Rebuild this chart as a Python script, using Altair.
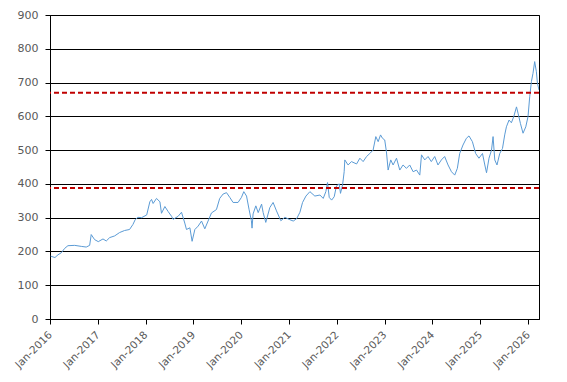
import altair as alt
import pandas as pd

dates = [
    "2016-01-06", "2016-02-08", "2016-03-02", "2016-03-27", "2016-04-22", "2016-05-17",
    "2016-07-08", "2016-08-27", "2016-10-04", "2016-10-30", "2016-11-11", "2016-12-07",
    "2017-01-04", "2017-02-09", "2017-03-06", "2017-04-01", "2017-05-09", "2017-06-16",
    "2017-07-24", "2017-08-31", "2017-09-26", "2017-10-13", "2017-11-03", "2017-12-01",
    "2018-01-09", "2018-02-02", "2018-02-15", "2018-02-27", "2018-03-25", "2018-04-20",
    "2018-05-02", "2018-05-28", "2018-06-22", "2018-07-18", "2018-07-30", "2018-09-06",
    "2018-10-02", "2018-10-27", "2018-11-09", "2018-12-05", "2018-12-22",
    "2019-01-12", "2019-02-06", "2019-03-04", "2019-03-29", "2019-04-23", "2019-05-19",
    "2019-06-26", "2019-07-21", "2019-08-16", "2019-09-11", "2019-10-06", "2019-10-31",
    "2019-12-08",
    "2020-01-03", "2020-01-21", "2020-02-11", "2020-03-01", "2020-03-19", "2020-03-24",
    "2020-04-01", "2020-04-22", "2020-05-10", "2020-06-05", "2020-06-17", "2020-07-07",
    "2020-08-07", "2020-09-01", "2020-09-27", "2020-10-30", "2020-11-30",
    "2021-01-07", "2021-02-02", "2021-02-28", "2021-03-25", "2021-04-14", "2021-05-10",
    "2021-06-09", "2021-07-17", "2021-08-25", "2021-09-19", "2021-10-09", "2021-10-22",
    "2021-11-04", "2021-11-22", "2021-12-12", "2021-12-29",
    "2022-01-19", "2022-01-29", "2022-02-14", "2022-02-26", "2022-03-03", "2022-03-28",
    "2022-04-23", "2022-06-01", "2022-06-26", "2022-07-21", "2022-08-16", "2022-09-10",
    "2022-10-05", "2022-10-26", "2022-11-13", "2022-12-01", "2022-12-16",
    "2023-01-02", "2023-01-15", "2023-01-28", "2023-02-17", "2023-03-07", "2023-04-02",
    "2023-04-27", "2023-05-22", "2023-06-17", "2023-07-12", "2023-08-07", "2023-09-02",
    "2023-09-27", "2023-10-10", "2023-11-04", "2023-11-29", "2023-12-24",
    "2024-01-19", "2024-02-13", "2024-03-10", "2024-04-04", "2024-04-30", "2024-05-26",
    "2024-06-20", "2024-07-10", "2024-07-28", "2024-08-22", "2024-09-17", "2024-10-07",
    "2024-11-02", "2024-11-27", "2024-12-22",
    "2025-01-18", "2025-02-05", "2025-02-18", "2025-03-09", "2025-03-28", "2025-04-09",
    "2025-04-22", "2025-05-09", "2025-05-30", "2025-06-20", "2025-07-07", "2025-07-20",
    "2025-08-09", "2025-08-27", "2025-09-14", "2025-10-05", "2025-10-17", "2025-11-04",
    "2025-11-24", "2025-12-15",
    "2026-01-01", "2026-01-14", "2026-01-27", "2026-02-08", "2026-02-21", "2026-03-06",
    "2026-03-14", "2026-03-26",
]

prices = [
    186, 182, 190, 196, 209, 217,
    218, 215, 213, 218, 250, 235,
    229, 237, 231, 241, 246, 256,
    262, 265, 280, 294, 301, 300,
    308, 347, 354, 342, 357, 347,
    313, 333, 318, 304, 295, 304,
    316, 284, 265, 270, 230,
    265, 275, 290, 267, 290, 314,
    324, 357, 370, 374, 360, 345,
    345,
    360, 377, 364, 325, 291, 269,
    311, 335, 315, 340, 315, 286,
    330, 345, 320, 291, 301,
    294, 290, 297, 316, 345, 364,
    377, 364, 367, 357, 377, 404,
    360, 352, 362, 394,
    400, 372, 397, 436, 471, 456,
    466, 459, 476, 466, 481, 490,
    500, 540, 525, 545, 535,
    530, 495, 441, 471, 456, 476,
    441, 456, 446, 456, 436, 441,
    426, 486, 471, 481, 466,
    481, 456, 471, 481, 456, 436,
    426, 446, 490, 515, 535, 542,
    525, 490, 476,
    490, 456, 433, 476, 500, 540,
    471, 456, 490, 505, 545, 569,
    589, 581, 599, 628, 609, 579,
    550, 569,
    599, 658, 703, 727, 762, 732,
    698, 678,
]

levels = [670, 388]
years = list(range(2016, 2027))
y_ticks = list(range(0, 901, 100))

price_df = pd.DataFrame({"date": dates, "price": prices})
level_df = pd.DataFrame({"level": levels})

font = "DejaVu Sans"
xscale = alt.Scale(
    type="utc",
    domain=[alt.DateTime(year=2016, month=1, date=1, utc=True),
            alt.DateTime(year=2026, month=3, date=26, utc=True)],
    nice=False,
)
yscale = alt.Scale(domain=[0, 900], nice=False)

line = alt.Chart(price_df).mark_line(color="#5B9BD5", strokeWidth=1, clip=True).encode(
    x=alt.X(
        "date:T",
        scale=xscale,
        axis=alt.Axis(
            values=[alt.DateTime(year=y, month=1, date=1, utc=True) for y in years],
            format="%b-%Y",
            labelAngle=-45,
            labelAlign="right",
            labelBaseline="middle",
            labelPadding=9,
            labelOverlap=False,
            tickSize=5,
            tickColor="black",
            domainColor="black",
            grid=False,
            labelColor="#595959",
            labelFont=font,
            labelFontSize=10.5,
            title=None,
        ),
    ),
    y=alt.Y(
        "price:Q",
        scale=yscale,
        axis=alt.Axis(
            values=y_ticks,
            tickCount=10,
            labelOverlap=False,
            tickSize=5,
            tickColor="black",
            domainColor="black",
            grid=True,
            gridColor="black",
            gridWidth=1,
            gridOpacity=1,
            labelColor="#595959",
            labelFont=font,
            labelFontSize=11,
            labelPadding=7,
            title=None,
        ),
    ),
)

rules = alt.Chart(level_df).mark_rule(
    color="#C00000", strokeWidth=2, strokeDash=[5, 3]
).encode(y=alt.Y("level:Q", scale=yscale))

chart = alt.layer(line, rules).properties(
    width=489,
    height=304,
    autosize=alt.AutoSizeParams(type="none"),
    padding={"left": 42, "top": 7, "right": 20, "bottom": 55},
    background="white",
).configure_view(stroke="black", strokeWidth=1)

chart.save("out.html", embed_options={"renderer": "svg", "actions": False})
